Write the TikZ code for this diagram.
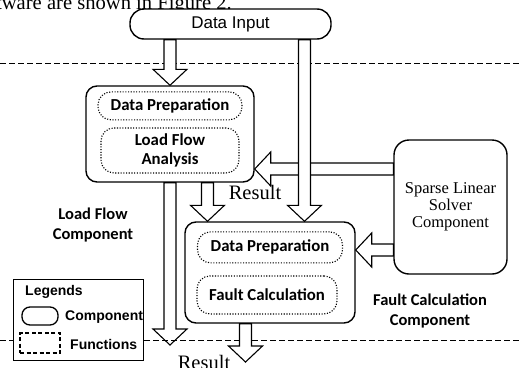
\documentclass[tikz,border=0pt]{standalone}
\usepackage{fontspec}
\setmainfont{Liberation Serif}
\newfontfamily\carlito{Carlito}
\newfontfamily\arialfont{Liberation Sans}
\usetikzlibrary{calc,positioning}

% hollow block arrow from #1 to #2
\newcommand{\fatarrow}[2]{%
  \coordinate (hb) at ($(#2)!16pt!(#1)$);
  \draw[fat] ($(#1)!6pt!90:(hb)$) -- ($(hb)!6pt!-90:(#1)$) -- ($(hb)!17pt!-90:(#1)$) -- (#2)
    -- ($(hb)!17pt!90:(#1)$) -- ($(hb)!6pt!90:(#1)$) -- ($(#1)!6pt!-90:(hb)$) -- cycle;}

\begin{document}
\begin{tikzpicture}[x=1pt,y=-1pt,
    comp/.style={draw,line width=1.4pt,rounded corners=11pt,fill=white},
    func/.style={draw,line width=1.1pt,dash pattern=on 1.1pt off 1.6pt,rounded corners=13pt,
                 align=center,font=\carlito\bfseries\fontsize{16.8}{19.5}\selectfont},
    fat/.style={draw,fill=white,line width=1.1pt},
    sep/.style={line width=1pt,dash pattern=on 6pt off 3pt},
    lbl/.style={align=center,font=\carlito\bfseries\fontsize{16.5}{20}\selectfont},
    res/.style={font=\fontsize{20.5}{22}\selectfont},
    legtext/.style={anchor=west,inner sep=0pt,font=\arialfont\bfseries\fontsize{14}{16}\selectfont}]

\useasboundingbox (0,0) rectangle (519,367);

% line of the page above the figure
\node[anchor=base east,inner sep=0pt,font=\fontsize{20.6}{22}\selectfont] (page) at (232,9) {tware are shown in Figure 2.};

\node[comp,rounded corners=14pt,minimum width=201pt,minimum height=30pt,
      font=\arialfont\fontsize{17}{20}\selectfont] (di) at (230.5,24) {Data Input};

\draw[sep] (0,63) -- (519,63);

% load flow component
\node[comp,minimum width=168pt,minimum height=96pt] (lf) at (170,134) {};
\node[func,minimum width=144pt,minimum height=28pt,below=6pt of lf.north] (dp1) {Data Preparation};
\node[func,minimum width=138pt,minimum height=45pt,below=7pt of dp1] (lfa) {Load Flow\\Analysis};

% fault calculation component
\node[comp,minimum width=170pt,minimum height=101pt] (fault) at (270,272.5) {};
\node[func,minimum width=145pt,minimum height=31pt,below=10pt of fault.north] (dp2) {Data Preparation};
\node[func,minimum width=140pt,minimum height=38pt,below=12pt of dp2,xshift=-3pt] (fc) {Fault Calculation};

% solver
\node[comp,rounded corners=15pt,minimum width=113pt,minimum height=134pt,align=center,
      font=\fontsize{16.5}{17}\selectfont] (sp) at (450.5,207) {Sparse Linear\\Solver\\Component};

\node[lbl] (lflbl) at (93,225) {Load Flow\\Component};
\node[lbl] (fclbl) at (430,311) {Fault Calculation\\Component};

% arrows
\coordinate (lfin) at ($(lf.east)+(0,35)$);
\coordinate (fcin) at ($(fault.east)+(0,-22.5)$);
\coordinate (fin) at ($(fault.north)+(34.5,0)$);
\coordinate (resin) at ($(fault.north)+(-62.5,0)$);
\coordinate (lfout) at (170,345);
\coordinate (fcout) at (245.5,362);

\fatarrow{lfin -| sp.west}{lfin}
\fatarrow{fcin -| sp.west}{fcin}
\fatarrow{fin |- di.south}{fin}
\fatarrow{lf.north |- di.south}{lf.north}
\fatarrow{resin |- lf.south}{resin}
\fatarrow{lf.south}{lfout}
\draw[sep] (0,340) -- (519,340);
\fatarrow{fcout |- fault.south}{fcout}

\node[res] (res1) at (255,192) {Result};
\node[res,anchor=base] (res2) at (204,369) {Result};

% legend
\node[draw,line width=1pt,fill=white,minimum width=130pt,minimum height=81pt] (leg) at (78,319.5) {};
\node[legtext] (legtitle) at (25,292) {Legends};
\node[draw,line width=1.3pt,rounded corners=8pt,minimum width=36pt,minimum height=18pt] (lcomp) at (40,316) {};
\node[legtext] (lcomptext) at (65,317) {Component};
\node[draw,line width=1.2pt,dash pattern=on 4pt off 2.5pt,minimum width=40pt,minimum height=20pt] (lfunc) at (40,343) {};
\node[legtext] (lfunctext) at (70,344) {Functions};

\end{tikzpicture}
\end{document}
